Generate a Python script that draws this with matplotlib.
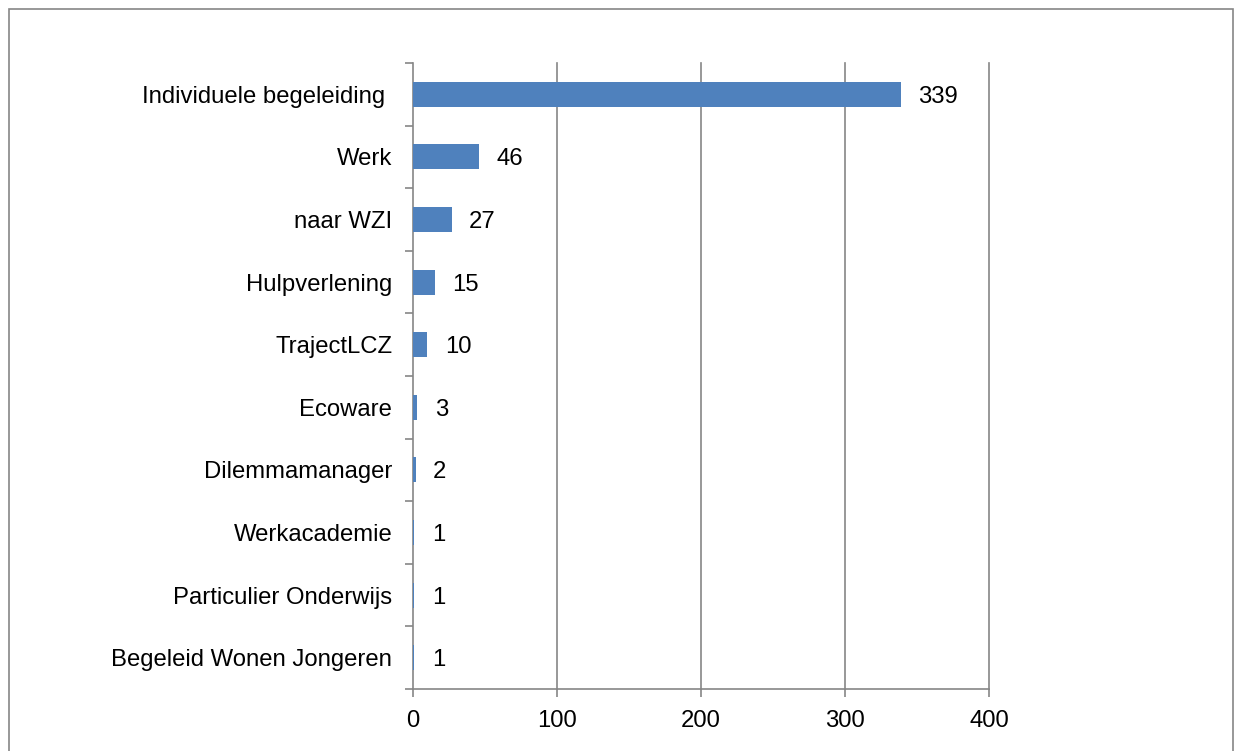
import matplotlib
matplotlib.use("Agg")
import matplotlib.pyplot as plt
from matplotlib.patches import Rectangle

categories = ["Individuele begeleiding ", "Werk", "naar WZI", "Hulpverlening",
              "TrajectLCZ", "Ecoware", "Dilemmamanager", "Werkacademie",
              "Particulier Onderwijs", "Begeleid Wonen Jongeren"]
values = [339, 46, 27, 15, 10, 3, 2, 1, 1, 1]
xticks = [0, 100, 200, 300, 400]

plt.rcParams['font.family'] = ['Liberation Sans', 'DejaVu Sans']
gray = '#868686'
fs = 17.2

fig = plt.figure(figsize=(12.41, 7.51), dpi=100)
fig.patches.append(Rectangle((9/1241, -0.05), (1233-9)/1241, 1.05-9/751, transform=fig.transFigure,
                             fill=False, edgecolor=gray, linewidth=1.2))
ax = fig.add_axes([413/1241, 1-689/751, (989-413)/1241, (689-63)/751])

n = len(categories)
ypos = list(range(n))
ax.barh(ypos, values, height=0.4, color='#4F81BD', zorder=3)
for y, v in zip(ypos, values):
    ax.text(v + 12, y, str(v), va='center_baseline', ha='left', fontsize=fs, color='black')

ax.set_xlim(0, 400)
ax.set_ylim(n - 0.5, -0.5)
ax.set_xticks(xticks)
ax.set_xticklabels([str(t) for t in xticks], fontsize=fs)
ax.set_yticks(ypos)
ax.set_yticklabels(categories, fontsize=fs, va='center_baseline')
ax.tick_params(axis='y', which='major', length=0, pad=15)
ax.set_yticks([i - 0.5 for i in range(n + 1)], minor=True)
ax.tick_params(axis='y', which='minor', length=6, color=gray, width=1.2)
ax.tick_params(axis='x', length=6, color=gray, width=1.2, pad=9)
for t in xticks[1:]:
    ax.axvline(t, color=gray, linewidth=1.2, zorder=0, clip_on=False)
for s in ['top', 'right']:
    ax.spines[s].set_visible(False)
for s in ['left', 'bottom']:
    ax.spines[s].set_color(gray)
    ax.spines[s].set_linewidth(1.2)

fig.savefig("out.png", dpi=100)
